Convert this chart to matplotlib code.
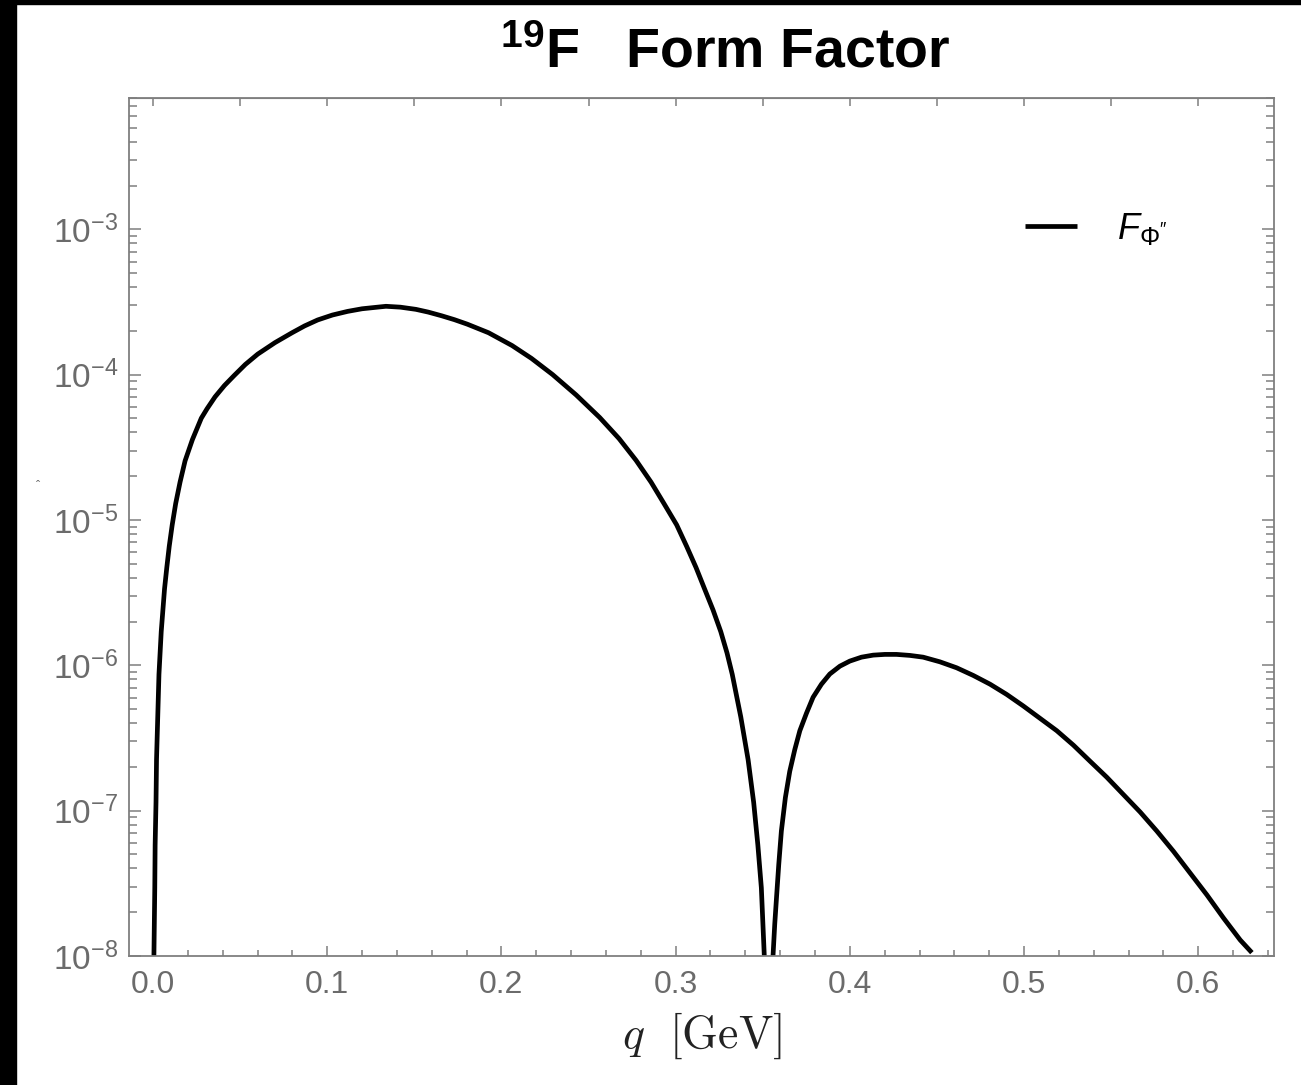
import matplotlib
matplotlib.use("Agg")
import matplotlib.pyplot as plt
import matplotlib.ticker as mticker
import numpy as np

plt.rcParams['font.family'] = ['Liberation Sans', 'DejaVu Sans']
plt.rcParams['mathtext.fontset'] = 'custom'
plt.rcParams['mathtext.rm'] = 'Liberation Sans'
plt.rcParams['mathtext.it'] = 'Liberation Sans:italic'
plt.rcParams['mathtext.bf'] = 'Liberation Sans:bold'

# values (q in GeV, log10 of the form factor)
q_lobe1 = [0.0005, 0.0010, 0.0012, 0.0017, 0.0020, 0.0027, 0.0034, 0.0047,
           0.0066, 0.0079, 0.0093, 0.0110, 0.0130, 0.0155, 0.0184, 0.0226,
           0.0277, 0.0310, 0.0356, 0.0410, 0.0466, 0.0530, 0.0601, 0.0700,
           0.0798, 0.0870, 0.0945, 0.1030, 0.1117, 0.1200, 0.1288, 0.1337,
           0.1420, 0.1509, 0.1580, 0.1656, 0.1730, 0.1804, 0.1926, 0.2061,
           0.2172, 0.2294, 0.2429, 0.2564, 0.2675, 0.2773, 0.2859, 0.2933,
           0.3006, 0.3063, 0.3117, 0.3166, 0.3215, 0.3259, 0.3295, 0.3325,
           0.3374, 0.3416, 0.3448, 0.3472, 0.3492, 0.3509, 0.3513]
logF_lobe1 = [-8.00, -7.53, -7.236, -6.943, -6.649, -6.355, -6.062, -5.768,
              -5.474, -5.327, -5.181, -5.034, -4.887, -4.740, -4.593, -4.447,
              -4.300, -4.235, -4.153, -4.075, -4.006, -3.930, -3.859, -3.780,
              -3.712, -3.665, -3.624, -3.590, -3.565, -3.547, -3.536, -3.530,
              -3.536, -3.551, -3.570, -3.595, -3.622, -3.653, -3.712, -3.800,
              -3.888, -4.000, -4.140, -4.295, -4.440, -4.590, -4.740, -4.887,
              -5.034, -5.181, -5.327, -5.474, -5.620, -5.768, -5.915, -6.062,
              -6.355, -6.649, -6.943, -7.236, -7.530, -8.00, -8.30]

q_lobe2 = [0.3555, 0.3559, 0.3569, 0.3579, 0.3592, 0.3607, 0.3630, 0.3655,
           0.3684, 0.3713, 0.3751, 0.3789, 0.3837, 0.3885, 0.3943, 0.4000,
           0.4067, 0.4134, 0.4201, 0.4268, 0.4345, 0.4421, 0.4517, 0.4613,
           0.4709, 0.4805, 0.4900, 0.4996, 0.5092, 0.5188, 0.5284, 0.5379,
           0.5475, 0.5571, 0.5667, 0.5762, 0.5858, 0.5954, 0.6050, 0.6146,
           0.6241, 0.6308]
logF_lobe2 = [-8.30, -8.00, -7.78, -7.60, -7.37, -7.14, -6.91, -6.73,
              -6.58, -6.45, -6.33, -6.22, -6.13, -6.06, -6.006, -5.971,
              -5.944, -5.930, -5.925, -5.925, -5.932, -5.944, -5.976, -6.017,
              -6.070, -6.13, -6.20, -6.28, -6.365, -6.45, -6.55, -6.66,
              -6.77, -6.89, -7.01, -7.14, -7.28, -7.43, -7.58, -7.74,
              -7.89, -7.977]

title = r'$\mathbf{^{19}F\ \ \ Form\ Factor}$'
legend_label = r"$F_{\Phi''}$"

grey = '#7f7f7f'
label_grey = '#6b6b6b'

fig = plt.figure(figsize=(13.01, 10.85), dpi=100)
ax = fig.add_axes([129 / 1301, 1 - 956 / 1085, (1274 - 129) / 1301, (956 - 98) / 1085])

ax.plot(q_lobe1, 10 ** np.array(logF_lobe1), color='black', lw=3.4,
        label=legend_label, solid_capstyle='butt', solid_joinstyle='round')
ax.plot(q_lobe2, 10 ** np.array(logF_lobe2), color='black', lw=3.4,
        solid_capstyle='butt', solid_joinstyle='round')

ax.set_yscale('log')
ax.set_xlim(-0.0138, 0.6435)
ax.set_ylim(1e-8, 8e-3)

ax.set_xticks(np.arange(0, 0.61, 0.1))
ax.xaxis.set_major_formatter(mticker.FormatStrFormatter('%.1f'))
ax.xaxis.set_minor_locator(mticker.MultipleLocator(0.02))
ax.yaxis.set_major_locator(mticker.LogLocator(base=10, numticks=20))
ax.yaxis.set_minor_locator(mticker.LogLocator(base=10, subs=np.arange(2, 10), numticks=20))
ax.yaxis.set_major_formatter(mticker.FuncFormatter(
    lambda v, p: r'$\mathregular{10^{%d}}$' % round(np.log10(v))))
ax.yaxis.set_minor_formatter(mticker.NullFormatter())

ax.tick_params(which='both', direction='in', color=grey, width=1.1,
               labelcolor=label_grey, labelsize=23, top=False, right=True)
ax.tick_params(axis='y', labelsize=24)
ax.tick_params(axis='x', which='major', length=7, pad=10)
ax.tick_params(axis='x', which='minor', length=4)
ax.tick_params(axis='y', which='major', length=8.5, pad=8)
ax.tick_params(axis='y', which='minor', length=5.5)
for s in ax.spines.values():
    s.set_color(grey)
    s.set_linewidth(1.3)

top = ax.secondary_xaxis('top')
top.set_xticks(np.arange(0, 0.64, 0.05))
top.tick_params(direction='in', length=5.5, width=1.1, color=grey, labeltop=False)
top.spines['top'].set_color(grey)

ax.set_xlabel(r'$q\ \ [\mathrm{GeV}]$', fontsize=33, color='#222222', labelpad=8,
              math_fontfamily='cm')

leg = ax.legend(loc='center left',
                bbox_to_anchor=((1025 - 129) / 1145, (956 - 229) / 858),
                frameon=False, borderpad=0, borderaxespad=0,
                fontsize=26, handlelength=1.44, handletextpad=1.1)

fig.text(0.557, 0.951, title, fontsize=40, ha='center', va='center', color='black')
fig.text(38 / 1301, 1 - 487 / 1085, 'ˆ', fontsize=9, color=label_grey, ha='center', va='center')

# black strips on the left and top edges
fig.patches.append(plt.Rectangle((0, 0), 16 / 1301, 1, transform=fig.transFigure,
                                 color='black', zorder=10))
fig.patches.append(plt.Rectangle((0, 1 - 4 / 1085), 1, 4 / 1085, transform=fig.transFigure,
                                 color='black', zorder=10))

fig.savefig('out.png', dpi=100)
